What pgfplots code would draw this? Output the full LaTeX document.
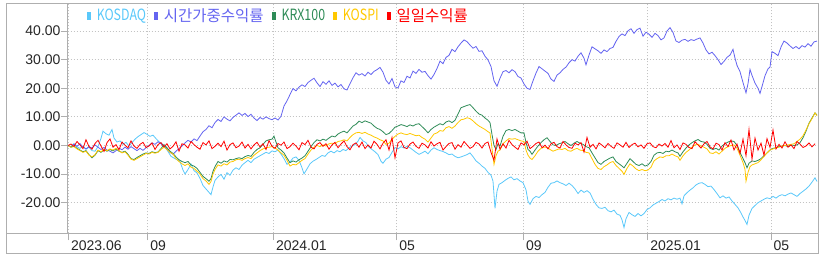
\documentclass[border=0pt]{standalone}
\usepackage{fontspec}
\usepackage{graphicx}
\usepackage{pgfplots}
\pgfplotsset{compat=1.18}
\setmainfont{Liberation Sans}
\newfontfamily\kr{Noto Sans CJK KR}
\definecolor{cKOSDAQ}{RGB}{90,200,250}
\definecolor{cTW}{RGB}{100,100,240}
\definecolor{cKRX}{RGB}{46,139,87}
\definecolor{cKOSPI}{RGB}{255,200,0}
\definecolor{cDAY}{RGB}{255,0,0}
\definecolor{frame}{RGB}{175,175,175}
\definecolor{gridc}{RGB}{195,195,195}
\newcommand\lat[1]{\scalebox{0.8}[1]{#1}}
\begin{document}
\begin{tikzpicture}
\path[use as bounding box] (0,0) rectangle (824bp,260bp);
\begin{axis}[
  at={(67.7bp,26.7bp)}, anchor=south west,
  scale only axis, width=751bp, height=230bp,
  xmin=67.7, xmax=818.7, ymin=-30.7, ymax=49.7,
  axis line style={draw=frame, line width=0.8bp},
  tick pos=left, tick align=outside,
  major tick length=7bp,
  tick style={draw=frame, line width=0.8bp},
  xtick={68.3,147.7,273.3,396.7,523.3,647.7,771},
  xticklabels={2023.06,09,2024.01,05,09,2025.01,05},
  ytick={-20,-10,0,10,20,30,40},
  yticklabels={-20.00,-10.00,0.00,10.00,20.00,30.00,40.00},
  xticklabel style={anchor=north west, inner sep=0pt, xshift=2.5bp, font=\fontsize{14bp}{15bp}\selectfont, text=black!85},
  yticklabel style={anchor=east, inner sep=0pt, font=\fontsize{14bp}{15bp}\selectfont, text=black!85},
  xmajorgrids, ymajorgrids,
  grid style={draw=gridc, line width=0.8bp, dash pattern=on 0.8bp off 2.2bp},
  every axis plot/.append style={line width=0.8bp, no markers},
  legend style={draw=none, fill=none, at={(axis description cs:0.0257,0.947)}, anchor=west,
    font=\kr\fontsize{15.5bp}{17bp}\selectfont, inner sep=0pt, outer sep=0pt,
    nodes={inner sep=0pt},
    /tikz/every odd column/.append style={column sep=6bp},
    /tikz/every even column/.append style={column sep=8bp}},
  legend columns=-1,
  legend image code/.code={\fill[#1] (0bp,-3.5bp) rectangle (3bp,3.5bp);},
]
% KOSDAQ
\addplot[color=cKOSDAQ] coordinates {
(68,0) (71,-0.4) (74,0.6) (77,-0.5) (80,-1.0) (83,-0.3) (86,-1.3) (89,-0.6) (92,-1.8) (95,-2.0)
(98,-0.4) (101,2.5) (103,5.0) (106,4.1) (109,3.6) (112,5.6) (114,2.6) (117,1.2) (120,1.6) (123,0.4)
(126,1.1) (129,-0.3) (132,1.0) (135,2.2) (138,3.1) (141,3.8) (144,4.5) (147,3.9) (150,3.2) (153,3.6)
(156,2.4) (159,1.3) (162,0.6) (165,-0.5) (168,-2.1) (171,-3.8) (174,-4.4) (177,-5.0) (180,-5.6) (183,-8.6)
(185,-10.0) (188,-8.4) (191,-6.5) (194,-8.8) (197,-9.6) (200,-11.5) (203,-14.0) (206,-15.2) (209,-16.4) (211,-17.2)
(213,-14.5) (215,-12.2) (218,-11.0) (221,-10.1) (224,-11.8) (227,-9.5) (230,-10.4) (233,-8.6) (236,-7.8) (239,-8.4)
(242,-6.9) (245,-6.0) (248,-5.2) (251,-6.0) (254,-4.8) (257,-4.2) (260,-3.6) (263,-3.0) (266,-2.4) (269,-2.8)
(272,-1.9) (275,-2.2) (278,-1.6) (281,-3.0) (284,-4.6) (287,-6.6) (290,-5.8) (293,-4.4) (296,-4.0) (299,-5.2)
(302,-7.8) (304,-9.9) (307,-8.2) (310,-6.4) (313,-5.5) (316,-4.9) (319,-4.2) (322,-3.5) (325,-3.8) (328,-2.6)
(331,-2.0) (334,-2.6) (337,-1.8) (340,-2.2) (343,-1.4) (346,-1.8) (349,-0.8) (352,-0.2) (355,0.3) (358,1.5)
(360,2.8) (363,1.6) (366,1.0) (369,-0.6) (372,-1.4) (375,-2.2) (378,-3.2) (381,-5.5) (383,-6.2) (386,-4.8)
(389,-4.2) (392,-2.4) (395,-0.7) (398,-1.2) (401,-0.4) (404,-0.9) (407,-0.3) (410,-0.8) (413,-1.6) (416,-2.4)
(419,-3.1) (422,-2.6) (425,-2.0) (428,-2.9) (431,-1.6) (434,-0.8) (437,-1.4) (440,-1.8) (443,-2.1) (446,-2.6)
(449,-3.2) (452,-3.0) (455,-3.8) (458,-4.3) (461,-4.0) (464,-3.6) (467,-3.2) (470,-2.6) (473,-3.9) (476,-5.4)
(479,-6.2) (482,-7.2) (485,-8.0) (488,-9.4) (491,-10.4) (493,-12.5) (495,-22.0) (497,-16.0) (499,-13.6) (502,-13.0)
(505,-12.2) (508,-11.5) (511,-11.0) (514,-12.0) (517,-11.6) (520,-12.4) (523,-13.0) (526,-15.5) (528,-19.5) (530,-20.6)
(533,-18.6) (536,-17.8) (539,-18.2) (542,-17.2) (545,-16.4) (548,-14.6) (551,-13.2) (554,-13.0) (557,-12.4) (560,-13.0)
(563,-13.4) (566,-14.0) (569,-13.2) (572,-14.0) (575,-15.2) (578,-16.8) (581,-15.6) (584,-16.4) (587,-15.8) (590,-16.6)
(593,-18.8) (596,-20.6) (599,-21.8) (602,-22.0) (605,-21.6) (608,-22.8) (611,-23.2) (614,-22.6) (617,-24.0) (620,-24.4)
(622,-26.0) (624,-28.7) (626,-25.6) (629,-23.4) (632,-24.2) (635,-24.8) (638,-23.8) (641,-24.6) (644,-23.8) (647,-22.4)
(650,-21.8) (653,-20.8) (656,-20.2) (659,-19.6) (662,-18.9) (665,-19.4) (668,-18.6) (671,-19.0) (674,-18.4) (677,-18.8)
(680,-18.4) (682,-20.4) (684,-17.6) (687,-16.5) (690,-15.6) (693,-14.8) (696,-13.8) (699,-13.2) (702,-13.0) (705,-13.6)
(708,-14.4) (711,-14.2) (714,-15.4) (717,-16.8) (720,-18.3) (723,-17.6) (726,-18.4) (729,-18.0) (732,-19.4) (735,-20.6)
(738,-21.8) (741,-23.6) (743,-25.0) (745,-26.2) (747,-27.6) (749,-24.4) (752,-22.0) (755,-21.0) (758,-20.0) (761,-19.4)
(764,-18.8) (767,-18.3) (770,-18.6) (773,-17.8) (776,-18.4) (779,-17.6) (782,-17.2) (785,-17.6) (788,-17.0) (791,-16.6)
(794,-17.2) (797,-17.8) (800,-16.8) (803,-16.0) (806,-15.2) (809,-14.2) (812,-12.8) (815,-11.3) (817,-12.6)
};
\addlegendentry{\textcolor{cKOSDAQ}{\lat{KOSDAQ}}}
% time-weighted return
\addplot[color=cTW] coordinates {
(68,0) (71,-0.6) (74,0.5) (77,-0.3) (80,0.6) (83,-0.5) (86,-1.2) (89,-0.4) (92,-0.9) (95,0.2)
(98,-0.6) (101,-1.4) (104,-0.7) (107,-1.6) (110,-2.0) (113,-2.6) (116,-1.8) (119,-0.9) (122,-1.5) (125,-0.6)
(128,-1.3) (131,-0.4) (134,-1.1) (137,-1.8) (140,-1.0) (143,-1.7) (146,-0.8) (149,0.0) (152,0.9) (155,0.4)
(158,1.3) (161,0.6) (164,-0.4) (167,-1.2) (170,-2.4) (173,-3.1) (176,-2.0) (179,-1.1) (182,-0.2) (185,0.9)
(188,1.8) (191,1.2) (194,2.3) (197,1.7) (200,3.3) (203,4.8) (206,5.6) (209,6.9) (212,6.2) (215,8.0)
(218,9.1) (221,8.4) (224,10.0) (227,9.2) (230,8.6) (233,9.8) (236,10.6) (239,11.4) (242,10.5) (245,11.2)
(248,10.1) (251,10.9) (254,9.6) (257,8.7) (260,9.8) (263,9.2) (266,10.0) (269,9.4) (272,9.0) (275,9.6)
(278,8.9) (281,10.2) (284,13.8) (287,15.6) (290,17.8) (293,19.9) (296,19.1) (299,20.4) (302,21.2) (305,20.6)
(308,22.0) (311,22.8) (314,23.5) (317,21.9) (320,20.6) (323,22.3) (326,21.4) (329,22.6) (332,21.0) (335,21.8)
(338,20.5) (341,21.3) (344,19.8) (347,19.4) (350,21.6) (353,23.7) (356,25.4) (359,24.6) (362,25.1) (365,24.3)
(368,25.6) (371,24.8) (374,25.9) (377,26.5) (380,27.3) (383,25.6) (386,22.8) (389,21.5) (392,23.4) (395,20.5)
(398,20.1) (401,22.6) (404,22.0) (407,24.2) (410,23.6) (413,26.0) (416,25.2) (419,26.6) (422,25.6) (425,25.9)
(428,24.4) (431,23.2) (434,24.8) (437,26.9) (440,29.5) (443,28.6) (446,30.8) (449,31.5) (452,33.6) (455,32.8)
(458,34.5) (461,35.8) (464,36.9) (467,36.3) (470,35.1) (473,34.0) (476,34.6) (479,32.9) (482,33.1) (485,31.2)
(488,29.9) (491,27.6) (494,22.6) (497,20.7) (500,23.5) (503,25.8) (506,26.2) (509,25.4) (512,26.5) (515,25.8)
(518,24.1) (521,23.6) (524,21.5) (527,20.0) (530,19.6) (533,22.6) (536,25.3) (539,27.6) (542,26.8) (545,26.0)
(548,25.2) (551,23.2) (554,22.4) (557,24.6) (560,25.4) (563,26.6) (566,27.4) (569,28.9) (572,30.0) (575,29.5)
(578,31.2) (581,32.4) (584,30.5) (586,28.2) (589,31.6) (592,34.5) (595,33.8) (598,33.1) (601,32.2) (604,33.4)
(607,32.8) (610,33.9) (613,34.3) (616,36.4) (619,38.1) (622,39.0) (625,38.4) (628,40.1) (631,40.8) (634,39.2)
(637,40.5) (640,41.0) (643,38.2) (646,39.6) (649,38.9) (652,37.8) (655,39.2) (658,38.4) (661,36.9) (664,37.6)
(667,40.0) (670,41.2) (673,39.5) (676,36.5) (679,36.0) (682,36.8) (685,37.1) (688,36.4) (691,37.0) (694,36.7)
(697,37.2) (700,37.6) (703,35.8) (706,33.4) (709,32.0) (712,32.6) (715,31.4) (718,30.0) (721,28.3) (724,29.4)
(727,30.8) (730,31.6) (733,33.6) (735,30.5) (737,28.0) (740,25.8) (743,22.0) (746,18.4) (748,21.6) (750,26.6)
(752,24.5) (755,21.8) (758,20.0) (760,18.2) (762,20.6) (765,24.4) (768,26.8) (770,27.4) (772,32.8) (775,32.2)
(778,31.4) (781,34.4) (784,36.5) (787,35.8) (790,34.8) (793,33.9) (796,34.6) (799,33.8) (802,34.9) (805,34.4)
(808,35.6) (811,34.7) (814,36.2) (817,36.5)
};
\addlegendentry{\textcolor{cTW}{시간가중수익률}}
% KRX100
\addplot[color=cKRX] coordinates {
(68,0) (71,-0.5) (74,-0.2) (77,-1.0) (80,-1.6) (83,-2.2) (86,-1.8) (89,-3.2) (92,-4.3) (95,-3.4)
(98,-1.8) (101,-2.4) (104,-1.5) (107,-2.0) (110,-1.4) (113,-1.9) (116,-1.2) (119,-2.0) (122,-2.4) (125,-2.0)
(128,-3.1) (131,-4.6) (134,-4.9) (137,-4.2) (140,-3.6) (143,-3.0) (146,-2.6) (149,-2.8) (152,-2.2) (155,-2.5)
(158,-2.3) (161,-1.1) (164,0.3) (167,-0.8) (170,-2.0) (173,-2.8) (176,-4.0) (179,-5.0) (182,-5.6) (185,-6.0)
(188,-5.6) (191,-6.8) (194,-7.2) (197,-8.0) (200,-9.4) (203,-10.8) (206,-11.6) (209,-12.5) (211,-11.6) (213,-9.0)
(215,-7.4) (218,-5.6) (221,-6.2) (224,-5.4) (227,-5.8) (230,-4.9) (233,-5.0) (236,-4.6) (239,-4.3) (242,-4.6)
(245,-3.9) (248,-3.5) (251,-3.8) (254,-2.4) (257,-1.4) (260,-0.8) (263,0.4) (266,1.6) (269,2.0) (272,2.2)
(274,3.3) (276,1.2) (278,-0.8) (281,-1.6) (284,-2.6) (287,-4.4) (290,-6.0) (293,-5.4) (296,-5.8) (299,-5.0)
(302,-4.4) (305,-3.6) (308,-2.0) (311,-0.4) (314,1.0) (317,2.0) (320,1.6) (323,2.2) (326,1.8) (329,2.6)
(332,3.3) (335,3.0) (338,4.0) (341,4.6) (344,5.0) (347,4.4) (350,5.6) (353,6.8) (356,7.4) (359,8.5)
(362,8.0) (365,8.6) (368,8.2) (371,7.8) (374,6.8) (377,6.0) (380,5.6) (383,4.8) (386,3.8) (389,4.2)
(392,5.2) (395,6.4) (398,6.8) (401,7.3) (404,7.0) (407,6.6) (410,7.2) (413,6.8) (416,7.4) (419,7.6)
(422,6.6) (425,5.6) (428,4.4) (431,5.6) (434,6.4) (437,7.0) (440,7.6) (443,7.2) (446,8.2) (449,8.6)
(452,8.0) (455,8.8) (458,11.0) (461,13.2) (464,13.6) (467,14.0) (470,14.3) (473,13.2) (476,12.0) (479,11.0)
(482,10.6) (485,9.6) (488,8.8) (490,8.0) (492,3.8) (494,0.0) (496,-1.4) (498,0.6) (500,-0.2) (503,3.2)
(506,5.2) (509,5.6) (512,5.2) (515,5.6) (518,5.0) (521,4.4) (524,4.4) (526,1.0) (528,-1.4) (530,-2.0)
(532,-3.1) (535,-1.6) (538,-0.2) (541,1.0) (544,2.0) (547,2.7) (550,1.4) (553,0.2) (556,0.0) (559,0.6)
(562,0.9) (565,1.4) (568,0.6) (571,0.0) (574,0.8) (577,1.4) (580,0.8) (583,0.4) (586,-0.4) (589,-0.8)
(592,-2.6) (595,-4.3) (598,-6.0) (601,-6.6) (604,-5.6) (607,-5.0) (610,-4.4) (613,-4.0) (616,-5.6) (619,-6.4)
(622,-7.2) (624,-7.8) (627,-6.2) (630,-4.6) (633,-5.6) (636,-6.6) (639,-7.0) (642,-6.4) (645,-7.2) (648,-6.8)
(651,-5.6) (654,-3.4) (657,-2.6) (660,-2.4) (663,-2.8) (666,-2.0) (669,-2.2) (672,-1.6) (675,-2.2) (678,-2.6)
(680,-3.8) (683,-2.2) (686,-0.9) (689,0.2) (692,1.0) (695,1.6) (698,2.1) (701,1.4) (704,1.2) (707,0.4)
(710,-1.0) (713,-1.4) (716,-1.0) (719,-1.6) (722,-0.2) (725,0.6) (728,1.2) (731,1.6) (734,1.4) (737,0.0)
(740,-2.4) (743,-4.6) (745,-6.0) (747,-7.8) (749,-6.2) (752,-5.4) (755,-5.6) (758,-5.2) (761,-4.6) (764,-3.6)
(767,-2.6) (770,-1.6) (773,-1.0) (776,-0.8) (779,-0.4) (782,-0.2) (785,0.0) (788,-0.4) (791,0.2) (794,0.0)
(797,0.2) (800,1.0) (803,2.7) (806,5.0) (809,7.8) (812,9.6) (815,11.4) (817,10.6)
};
\addlegendentry{\textcolor{cKRX}{\lat{KRX100}}}
% KOSPI
\addplot[color=cKOSPI] coordinates {
(68,0) (71,-0.6) (74,-0.4) (77,-1.2) (80,-1.8) (83,-2.4) (86,-2.0) (89,-3.4) (92,-4.0) (95,-3.2)
(98,-1.6) (101,-2.2) (104,-1.4) (107,-1.8) (110,-1.2) (113,-1.6) (116,-1.0) (119,-1.8) (122,-2.6) (125,-2.2)
(128,-3.4) (131,-4.8) (134,-5.2) (137,-4.6) (140,-4.0) (143,-3.4) (146,-2.8) (149,-3.0) (152,-2.4) (155,-2.7)
(158,-2.4) (161,-1.4) (164,-0.6) (167,-1.4) (170,-2.4) (173,-3.0) (176,-4.6) (179,-5.6) (182,-6.4) (185,-7.0)
(188,-6.4) (191,-7.6) (194,-8.0) (197,-9.0) (200,-10.0) (203,-11.6) (206,-12.4) (209,-13.6) (211,-12.6) (213,-10.0)
(215,-8.4) (218,-6.8) (221,-7.2) (224,-6.4) (227,-6.8) (230,-5.8) (233,-5.6) (236,-5.0) (239,-4.8) (242,-5.2)
(245,-4.6) (248,-4.2) (251,-4.6) (254,-3.4) (257,-2.6) (260,-1.8) (263,-1.2) (266,-0.8) (269,-0.6) (272,-0.4)
(275,-0.9) (278,-1.6) (281,-2.6) (284,-3.4) (287,-5.2) (290,-7.2) (293,-6.6) (296,-6.8) (299,-6.0) (302,-5.2)
(305,-4.6) (308,-3.0) (311,-1.6) (314,-0.6) (317,0.0) (320,-0.4) (323,0.2) (326,-0.2) (329,0.6) (332,0.8)
(335,0.6) (338,1.4) (341,1.6) (344,2.0) (347,1.6) (350,2.8) (353,3.8) (356,4.4) (359,4.6) (362,4.2)
(365,4.6) (368,4.0) (371,3.6) (374,3.0) (377,2.6) (380,2.0) (383,1.6) (386,0.4) (389,0.8) (392,2.2)
(395,3.2) (398,4.0) (401,4.4) (404,4.0) (407,3.8) (410,4.2) (413,3.8) (416,3.4) (419,3.6) (422,2.8)
(425,2.2) (428,1.2) (431,2.6) (434,4.0) (437,4.4) (440,5.2) (443,5.0) (446,6.2) (449,6.6) (452,6.0)
(455,6.8) (458,8.0) (461,9.0) (464,9.2) (467,9.7) (470,9.4) (473,8.6) (476,7.6) (479,6.8) (482,6.2)
(485,5.6) (488,4.8) (490,4.4) (492,-1.0) (494,-6.6) (496,-3.6) (498,-2.0) (500,-1.6) (503,0.6) (506,1.6)
(509,2.4) (512,2.2) (515,2.4) (518,2.0) (521,1.6) (524,1.4) (526,-1.6) (528,-3.4) (530,-4.4) (532,-4.9)
(535,-3.6) (538,-2.0) (541,-1.0) (544,-0.6) (547,-0.6) (550,-1.4) (553,-2.0) (556,-1.6) (559,-1.2) (562,-1.4)
(565,-1.0) (568,-1.8) (571,-2.0) (574,-1.4) (577,-1.0) (580,-1.6) (583,-1.8) (586,-2.4) (589,-2.6) (592,-4.6)
(595,-6.6) (598,-8.0) (601,-8.4) (604,-7.4) (607,-6.8) (610,-6.0) (613,-5.6) (616,-7.0) (619,-8.0) (622,-9.0)
(624,-10.1) (627,-8.0) (630,-6.4) (633,-7.2) (636,-8.2) (639,-8.8) (642,-8.4) (645,-8.8) (648,-8.6) (651,-7.6)
(654,-5.4) (657,-4.6) (660,-4.0) (663,-4.2) (666,-3.6) (669,-3.6) (672,-3.0) (675,-3.6) (678,-4.0) (680,-5.2)
(683,-3.6) (686,-2.4) (689,-1.6) (692,-0.6) (695,0.2) (698,0.4) (701,-0.2) (704,-0.6) (707,-1.2) (710,-2.6)
(713,-2.8) (716,-2.2) (719,-3.0) (722,-2.0) (725,-1.0) (728,-0.4) (731,0.0) (734,0.2) (737,-1.0) (740,-3.4)
(743,-6.0) (745,-8.4) (746,-12.5) (748,-9.4) (750,-7.4) (752,-6.8) (755,-6.4) (758,-6.0) (761,-5.0) (764,-3.8)
(767,-2.6) (770,-1.6) (773,-1.2) (776,-0.8) (779,-0.6) (782,-0.2) (785,0.0) (788,0.2) (791,0.4) (794,0.6)
(797,1.4) (800,2.2) (803,3.4) (806,5.4) (809,7.6) (812,9.4) (815,11.4) (817,10.4)
};
\addlegendentry{\textcolor{cKOSPI}{\lat{KOSPI}}}
% daily return
\addplot[color=cDAY] coordinates {
(68,0.0) (71,0.5) (74,-0.3) (77,1.4) (80,0.2) (83,-1.1) (86,2.0) (89,-0.4) (92,-1.3) (95,0.7)
(98,1.8) (101,-0.2) (104,-2.1) (107,1.0) (110,2.3) (113,-0.6) (116,0.3) (119,-1.5) (122,1.2) (125,0.1)
(128,-0.8) (131,1.6) (134,-0.2) (137,-1.0) (140,0.4) (143,1.1) (146,-0.7) (149,-0.2) (152,0.9) (155,-1.4)
(158,0.3) (161,1.0) (164,-0.5) (167,0.6) (170,-1.2) (173,-0.3) (176,1.3) (179,-2.0) (182,0.6) (185,0.2)
(188,-0.9) (191,1.4) (194,0.3) (197,-0.6) (200,-1.3) (203,1.0) (206,0.2) (209,1.6) (212,-1.1) (215,-0.3)
(218,0.8) (221,-0.4) (224,1.5) (227,-1.6) (230,0.3) (233,0.9) (236,-0.8) (239,-0.2) (242,1.2) (245,-0.9)
(248,0.4) (251,-1.2) (254,0.2) (257,1.1) (260,-0.5) (263,0.6) (266,-1.4) (269,1.7) (272,-0.3) (275,-1.0)
(278,0.7) (281,0.1) (284,1.2) (287,-1.1) (290,-0.4) (293,0.8) (296,-0.2) (299,-1.5) (302,1.0) (305,0.3)
(308,1.8) (311,-0.6) (314,-1.2) (317,0.4) (320,1.0) (323,-0.3) (326,0.6) (329,-1.3) (332,0.2) (335,1.1)
(338,-0.8) (341,0.5) (344,1.6) (347,-0.4) (350,-1.5) (353,0.3) (356,0.9) (359,-0.6) (362,1.2) (365,-1.1)
(368,0.2) (371,-0.9) (374,1.5) (377,0.4) (380,-1.2) (383,0.8) (386,2.0) (389,-1.6) (392,2.8) (395,-4.3)
(398,0.9) (401,1.6) (404,-0.7) (407,-1.1) (410,0.5) (413,1.2) (416,-0.3) (419,-1.0) (422,0.8) (425,0.2)
(428,-0.9) (431,1.3) (434,-0.2) (437,0.6) (440,1.1) (443,-1.6) (446,-0.4) (449,0.7) (452,1.0) (455,-1.3)
(458,0.3) (461,-0.6) (464,1.4) (467,0.2) (470,-1.0) (473,-0.4) (476,1.1) (479,0.5) (482,-0.9) (485,0.7)
(488,1.2) (491,-2.4) (494,-5.2) (497,2.3) (500,-1.3) (503,0.6) (506,-0.9) (509,1.8) (512,0.3) (515,-0.6)
(518,-1.4) (521,0.9) (524,0.2) (527,1.5) (530,-1.1) (533,-0.3) (536,0.7) (539,1.2) (542,-0.8) (545,0.1)
(548,-1.2) (551,0.6) (554,1.1) (557,-0.4) (560,-0.9) (563,1.4) (566,0.2) (569,-0.7) (572,-1.0) (575,0.8)
(578,0.2) (581,1.0) (584,-2.3) (587,2.8) (590,-0.6) (593,0.4) (596,-1.2) (599,0.9) (602,0.1) (605,-0.8)
(608,0.7) (611,-0.3) (614,-1.0) (617,0.9) (620,0.2) (623,-0.6) (626,1.1) (629,-0.7) (632,0.3) (635,0.8)
(638,-0.5) (641,0.2) (644,-1.0) (647,0.6) (650,0.9) (653,-0.4) (656,-0.8) (659,0.5) (662,-0.2) (665,0.7)
(668,-0.6) (671,1.7) (674,-0.8) (677,0.2) (680,-1.4) (683,0.9) (686,0.4) (689,-0.7) (692,-1.1) (695,1.3)
(698,0.2) (701,-0.9) (704,0.6) (707,1.4) (710,-0.5) (713,-1.2) (716,0.8) (719,0.3) (722,-1.6) (725,1.0)
(728,-0.4) (731,1.9) (734,-1.6) (737,0.5) (740,-2.8) (743,2.2) (746,-3.6) (749,5.6) (752,-4.8) (755,2.6)
(758,-1.6) (761,0.8) (764,-3.4) (767,2.4) (770,-0.7) (773,5.4) (776,-1.2) (779,0.4) (782,-0.9) (785,1.3)
(788,-0.6) (791,0.2) (794,-1.1) (797,1.4) (800,0.5) (803,-0.7) (806,-0.2) (809,0.9) (812,-0.5) (815,0.6)
};
\addlegendentry{\textcolor{cDAY}{일일수익률}}
\end{axis}
\draw[frame, line width=0.8bp] (6bp,6.7bp) rectangle (818.7bp,256.7bp);
\draw[frame, line width=0.8bp] (6bp,26.7bp) -- (818.7bp,26.7bp);
\end{tikzpicture}
\end{document}
